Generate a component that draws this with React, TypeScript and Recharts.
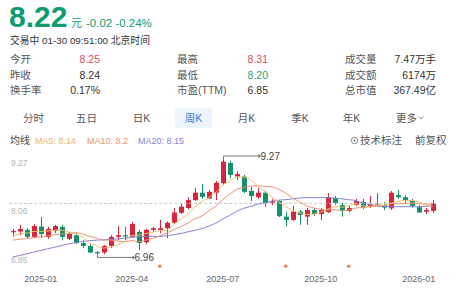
import React from 'react';
import { ComposedChart, Bar, Line, XAxis, YAxis, ReferenceLine, ReferenceDot } from 'recharts';

// ---- data (weekly K) ----
const opens = [7.52, 7.54, 7.58, 7.41, 7.66, 7.41, 7.55, 7.65, 7.36, 7.45, 7.26, 7.19, 7.04, 7.03, 7.19, 7.41, 7.45, 7.41, 7.53, 7.28, 7.58, 7.58, 7.62, 7.75, 7.99, 8.11, 8.30, 8.48, 8.34, 8.48, 8.71, 9.20, 8.87, 8.87, 8.52, 8.37, 8.48, 8.24, 8.28, 7.90, 7.82, 8.02, 7.90, 8.06, 7.96, 8.01, 8.35, 8.18, 8.04, 8.18, 8.26, 8.14, 8.20, 8.18, 8.10, 8.42, 8.37, 8.28, 8.13, 8.02, 8.04];
const highs = [7.60, 7.70, 7.62, 7.72, 7.89, 7.65, 7.70, 7.70, 7.53, 7.50, 7.33, 7.24, 7.07, 7.21, 7.45, 7.67, 7.65, 7.77, 7.58, 7.60, 7.65, 7.82, 7.79, 8.11, 8.23, 8.37, 8.59, 8.69, 8.54, 8.76, 9.27, 9.25, 9.00, 8.91, 8.62, 8.59, 8.52, 8.33, 8.30, 8.02, 8.16, 8.06, 8.11, 8.11, 8.11, 8.47, 8.40, 8.23, 8.16, 8.33, 8.33, 8.40, 8.47, 8.25, 8.52, 8.54, 8.42, 8.33, 8.18, 8.11, 8.30];
const lows = [7.41, 7.45, 7.36, 7.38, 7.38, 7.36, 7.50, 7.33, 7.33, 7.24, 7.14, 7.02, 6.96, 6.99, 7.14, 7.33, 7.33, 7.38, 7.09, 7.24, 7.53, 7.50, 7.38, 7.72, 7.96, 8.08, 8.28, 8.33, 8.33, 8.30, 8.66, 8.83, 8.79, 8.47, 8.28, 8.33, 8.14, 8.18, 7.89, 7.66, 7.79, 7.70, 7.70, 7.91, 7.82, 7.99, 8.18, 7.90, 8.01, 8.16, 8.08, 8.11, 8.13, 8.06, 8.06, 8.33, 8.23, 8.11, 7.99, 7.96, 7.99];
const closes = [7.55, 7.60, 7.41, 7.67, 7.48, 7.60, 7.67, 7.41, 7.48, 7.26, 7.19, 7.03, 7.01, 7.19, 7.41, 7.45, 7.42, 7.72, 7.26, 7.58, 7.62, 7.62, 7.75, 8.00, 8.14, 8.30, 8.48, 8.38, 8.50, 8.72, 9.23, 8.91, 8.93, 8.50, 8.40, 8.48, 8.22, 8.28, 7.91, 7.82, 8.02, 7.94, 8.06, 7.96, 8.06, 8.37, 8.23, 8.04, 8.11, 8.28, 8.12, 8.20, 8.17, 8.12, 8.48, 8.37, 8.30, 8.16, 8.00, 8.06, 8.22];
const ma5 = [7.44, 7.48, 7.50, 7.54, 7.54, 7.55, 7.57, 7.57, 7.53, 7.48, 7.40, 7.27, 7.19, 7.14, 7.17, 7.22, 7.30, 7.44, 7.45, 7.49, 7.52, 7.56, 7.57, 7.71, 7.83, 7.96, 8.13, 8.26, 8.36, 8.48, 8.66, 8.75, 8.86, 8.86, 8.79, 8.64, 8.51, 8.38, 8.26, 8.14, 8.05, 7.99, 7.95, 7.96, 8.01, 8.08, 8.14, 8.13, 8.16, 8.21, 8.16, 8.15, 8.18, 8.18, 8.22, 8.27, 8.29, 8.29, 8.26, 8.18, 8.15];
const ma10 = [7.33, 7.35, 7.37, 7.39, 7.41, 7.43, 7.46, 7.48, 7.50, 7.51, 7.48, 7.42, 7.38, 7.33, 7.33, 7.31, 7.29, 7.32, 7.29, 7.33, 7.37, 7.43, 7.50, 7.58, 7.66, 7.74, 7.85, 7.91, 8.04, 8.15, 8.31, 8.44, 8.56, 8.61, 8.64, 8.65, 8.63, 8.62, 8.56, 8.47, 8.35, 8.25, 8.16, 8.11, 8.08, 8.06, 8.07, 8.04, 8.06, 8.11, 8.12, 8.14, 8.15, 8.17, 8.21, 8.21, 8.22, 8.23, 8.22, 8.20, 8.21];
const ma20 = [6.92, 6.96, 7.00, 7.04, 7.08, 7.12, 7.16, 7.20, 7.24, 7.27, 7.30, 7.32, 7.33, 7.34, 7.35, 7.36, 7.38, 7.40, 7.41, 7.42, 7.42, 7.42, 7.44, 7.46, 7.49, 7.53, 7.57, 7.61, 7.67, 7.74, 7.84, 7.93, 8.03, 8.10, 8.15, 8.20, 8.24, 8.27, 8.30, 8.31, 8.33, 8.35, 8.36, 8.36, 8.36, 8.36, 8.35, 8.33, 8.31, 8.29, 8.23, 8.20, 8.16, 8.14, 8.14, 8.14, 8.14, 8.14, 8.14, 8.15, 8.16];
const tickIndex = [4, 17, 30, 44, 58];
const tickLabels = ['2025-01', '2025-04', '2025-07', '2025-10', '2026-01'];
const yTicks = [6.85, 8.06, 9.27];
const markerWeeks = [21, 39, 48];
const markerLevel = 6.7;
const lastPrice = 8.22;

const data = closes.map((c, i) => ({
  i,
  open: opens[i],
  high: highs[i],
  low: lows[i],
  close: c,
  range: [lows[i], highs[i]],
  ma5: ma5[i],
  ma10: ma10[i],
  ma20: ma20[i],
}));

const maxHigh = Math.max(...highs);
const minLow = Math.min(...lows);
const maxIdx = highs.indexOf(maxHigh);
const minIdx = lows.indexOf(minLow);

const FONT = '"Liberation Sans", Arial, "Noto Sans CJK SC", sans-serif';
const RED = '#d8243c';
const GREEN = '#14906c';
const BIG_GREEN = '#0e9c6e';

const Candle = (props: any) => {
  const { x, y, width, height, payload, index } = props;
  if (payload == null) return null;
  const top = Math.min(y, y + height);
  const h = Math.abs(height);
  const { open, close, high, low } = payload;
  const up = close >= open;
  const color = up ? RED : GREEN;
  const ratio = high - low > 0 ? h / (high - low) : 0;
  const cx = Math.round(x + width / 2) + 0.5;
  const bodyTop = top + (high - Math.max(open, close)) * ratio;
  const bodyH = Math.max(1, Math.abs(open - close) * ratio);
  const bw = 5;
  const bottom = top + h;
  return (
    <g>
      <line x1={cx} x2={cx} y1={top} y2={bottom} stroke={color} strokeWidth={1} />
      <rect x={cx - bw / 2} y={bodyTop} width={bw} height={bodyH} fill={color} />
      {index === maxIdx && (
        <g>
          <polyline points={`${cx},${top} ${cx},${top - 4} ${cx + 35},${top - 4}`} fill="none" stroke="#555" strokeWidth={0.8} />
          <path d={`M${cx + 35},${top - 5.8} L${cx + 37.5},${top - 4} L${cx + 35},${top - 2.2} Z`} fill="#555" />
          <text x={cx + 37} y={top - 0.5} fontSize={10} fill="#444" fontFamily={FONT}>{maxHigh.toFixed(2)}</text>
        </g>
      )}
      {index === minIdx && (
        <g>
          <polyline points={`${cx},${bottom} ${cx},${bottom + 2} ${cx + 35},${bottom + 2}`} fill="none" stroke="#555" strokeWidth={0.8} />
          <path d={`M${cx + 35},${bottom + 0.2} L${cx + 37.5},${bottom + 2} L${cx + 35},${bottom + 3.8} Z`} fill="#555" />
          <text x={cx + 37} y={bottom + 5.5} fontSize={10} fill="#444" fontFamily={FONT}>{minLow.toFixed(2)}</text>
        </g>
      )}
    </g>
  );
};

const XTick = (p: any) => {
  const k = tickIndex.indexOf(p.payload.value);
  if (k < 0) return null;
  return (
    <text x={p.x} y={282} textAnchor="middle" fontSize={9} fill="#666" fontFamily={FONT}>
      {tickLabels[k]}
    </text>
  );
};

const YTick = (p: any) => {
  const v = p.payload.value;
  const dy = v === yTicks[yTicks.length - 1] ? 6 : 3.5;
  return (
    <text x={11} y={p.y + dy} fontSize={8.5} fill="#b5b5b5" fontFamily={FONT}>
      {Number(v).toFixed(2)}
    </text>
  );
};

const tabs = ['分时', '五日', '日K', '周K', '月K', '季K', '年K'];
const tabCenters = [33.5, 86.5, 141.5, 193.5, 246.5, 300, 351.5];
const selectedTab = 3;

const Header = () => (
  <svg width={456} height={150} style={{ position: 'absolute', left: 0, top: 0, pointerEvents: 'none' }} fontFamily={FONT}>
    <text x={9} y={27} fontSize={30} fontWeight={700} fill={BIG_GREEN}>8.22</text>
    <text x={71} y={26.5} fontSize={11} fill={BIG_GREEN}>元</text>
    <text x={86} y={26.5} fontSize={11.5} fill={BIG_GREEN}>-0.02 -0.24%</text>
    <text x={10} y={44} fontSize={9.8} fill="#333">交易中 01-30 09:51:00 北京时间</text>

    <text x={10} y={63} fontSize={10.5} fill="#555">今开</text>
    <text x={100} y={63} fontSize={10.5} fill="#e04a5e" textAnchor="end">8.25</text>
    <text x={177} y={63} fontSize={10.5} fill="#555">最高</text>
    <text x={268} y={63} fontSize={10.5} fill="#e04a5e" textAnchor="end">8.31</text>
    <text x={345} y={63} fontSize={10.5} fill="#555">成交量</text>
    <text x={436} y={63} fontSize={10.5} fill="#333" textAnchor="end">7.47万手</text>

    <text x={10} y={78.5} fontSize={10.5} fill="#555">昨收</text>
    <text x={100} y={78.5} fontSize={10.5} fill="#333" textAnchor="end">8.24</text>
    <text x={177} y={78.5} fontSize={10.5} fill="#555">最低</text>
    <text x={268} y={78.5} fontSize={10.5} fill="#1f9e74" textAnchor="end">8.20</text>
    <text x={345} y={78.5} fontSize={10.5} fill="#555">成交额</text>
    <text x={436} y={78.5} fontSize={10.5} fill="#333" textAnchor="end">6174万</text>

    <text x={10} y={94} fontSize={10.5} fill="#555">换手率</text>
    <text x={100} y={94} fontSize={10.5} fill="#333" textAnchor="end">0.17%</text>
    <text x={177} y={94} fontSize={10.5} fill="#555">市盈(TTM)</text>
    <text x={268} y={94} fontSize={10.5} fill="#333" textAnchor="end">6.85</text>
    <text x={345} y={94} fontSize={10.5} fill="#555">总市值</text>
    <text x={436} y={94} fontSize={10.5} fill="#333" textAnchor="end">367.49亿</text>

    <rect x={175} y={108} width={37} height={20} rx={2} fill="#edf3fd" />
    {tabs.map((t, k) => (
      <text key={t} x={tabCenters[k]} y={121.5} fontSize={10.5} textAnchor="middle" fill={k === selectedTab ? '#3a76dc' : '#555'}>
        {t}
      </text>
    ))}
    <text x={396} y={121.5} fontSize={10.5} fill="#555">更多</text>
    <polyline points="418.5,116.5 421,119 423.5,116.5" fill="none" stroke="#777" strokeWidth={0.8} />

    <text x={10} y={144} fontSize={10} fill="#444">均线</text>
    <text x={35} y={144} fontSize={9} fill="#efb45c">MA5: 8.14</text>
    <text x={87} y={144} fontSize={9} fill="#ea9171">MA10: 8.2</text>
    <text x={138} y={144} fontSize={9} fill="#7f85d6">MA20: 8.15</text>

    <circle cx={354.5} cy={140.5} r={3.2} fill="none" stroke="#666" strokeWidth={0.8} />
    <circle cx={354.5} cy={140.5} r={1} fill="#666" />
    <text x={360} y={144} fontSize={10.5} fill="#555">技术标注</text>
    <text x={415} y={144} fontSize={10.5} fill="#555">前复权</text>
  </svg>
);

export default function App() {
  return (
    <div style={{ position: 'absolute', left: 0, top: 0, width: 456, height: 293, background: '#fff', overflow: 'hidden' }}>
      <div style={{ position: 'absolute', left: 0, top: 0 }}>
        <ComposedChart
          width={456}
          height={293}
          data={data}
          margin={{ top: 152.6, right: 19.8, bottom: 0, left: 8.2 }}
        >
          <XAxis
            dataKey="i"
            type="category"
            ticks={tickIndex}
            interval={0}
            axisLine={false}
            tickLine={false}
            height={22.7}
            tick={<XTick />}
          />
          <YAxis
            domain={[6.6, 9.45]}
            ticks={yTicks}
            interval={0}
            width={1}
            axisLine={false}
            tickLine={false}
            tick={<YTick />}
          />
          <ReferenceLine y={lastPrice} stroke="#c9c9c9" strokeDasharray="3 2" strokeWidth={1} />
          <Bar dataKey="range" shape={<Candle />} isAnimationActive={false} barSize={5} />
          <Line type="monotone" dataKey="ma20" stroke="#7f85d6" strokeWidth={1} dot={false} isAnimationActive={false} />
          <Line type="monotone" dataKey="ma10" stroke="#ea9171" strokeWidth={1} dot={false} isAnimationActive={false} />
          <Line type="monotone" dataKey="ma5" stroke="#efc070" strokeWidth={1} dot={false} isAnimationActive={false} />
          {markerWeeks.map((w) => (
            <ReferenceDot key={w} x={w} y={markerLevel} r={1.7} fill="#ee7f4a" stroke="none" />
          ))}
        </ComposedChart>
      </div>
      <Header />
    </div>
  );
}
